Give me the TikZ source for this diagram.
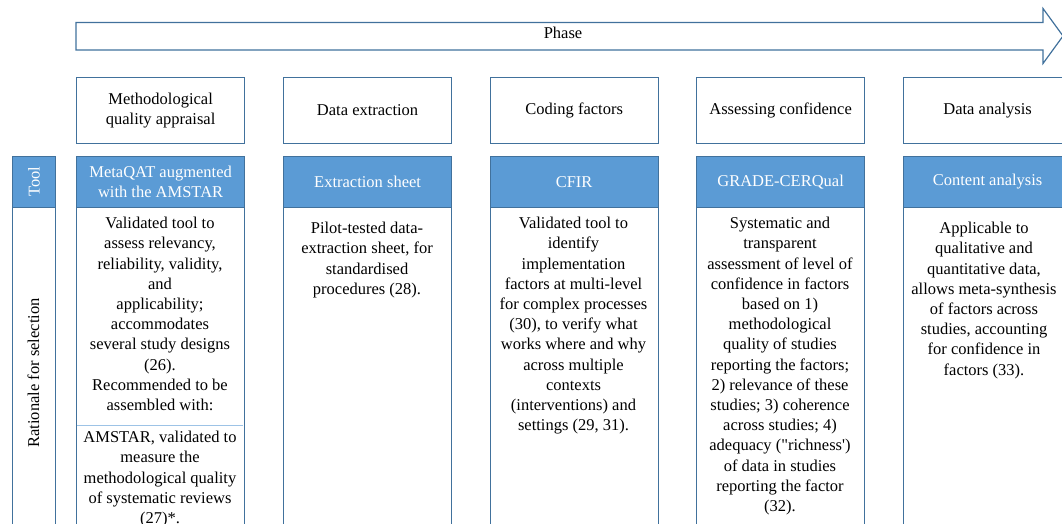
\documentclass[tikz,border=0pt]{standalone}
\usepackage{fontspec}
\setmainfont{Liberation Serif}[Ligatures=TeXOff]
\definecolor{bord}{HTML}{41719C}
\definecolor{toolfill}{HTML}{5B9BD5}
\definecolor{sepline}{HTML}{9DC3E6}
\newcommand{\mytxt}{\fontsize{16.5}{20.2}\selectfont}
\tikzset{
  hdrbox/.style={draw=bord, line width=1.2pt, minimum width=168pt, minimum height=65.5pt, inner sep=0pt, align=center, font=\mytxt, anchor=north west},
  toolbox/.style={draw=bord, fill=toolfill, line width=1.2pt, minimum width=168pt, minimum height=51.5pt, inner sep=0pt, align=center, font=\mytxt, text=white, anchor=north west},
  bodybox/.style={draw=bord, line width=1.2pt, minimum width=168pt, minimum height=340pt, inner sep=0pt, anchor=north west},
  bodytext/.style={anchor=north, align=center, inner sep=0pt, font=\mytxt},
  sidetool/.style={draw=bord, fill=toolfill, line width=1.2pt, minimum width=43pt, minimum height=51.5pt, inner sep=0pt, anchor=north west},
  sidebody/.style={draw=bord, line width=1.2pt, minimum width=43pt, minimum height=340pt, inner sep=0pt, anchor=north west},
  sidetext/.style={rotate=90, inner sep=0pt, font=\mytxt}
}
\begin{document}
\begin{tikzpicture}[x=1pt,y=-1pt]
\useasboundingbox (0,0) rectangle (1062,524);
\clip (0,0) rectangle (1062,524);
% phase arrow
\draw[bord, line width=1.2pt, line join=miter] (76,22.5) -- (1043,22.5) -- (1043,8.5) -- (1063,36) -- (1043,63.5) -- (1043,50) -- (76,50) -- cycle;
\node[font=\mytxt, inner sep=0pt] (phase) at (563,33) {Phase};
% left column
\node[sidetool] (ltool) at (12,155.5) {};
\node[sidetext, text=white] (ltooltxt) at (ltool.center) {Tool};
\node[sidebody] (lbody) at (12,207) {};
\node[sidetext] (lbodytxt) at (33.5,373) {Rationale for selection};
% headers
\node[hdrbox] (h1) at (76,77) {Methodological\\quality appraisal};
\node[hdrbox] (h2) at (283,77) {Data extraction};
\node[hdrbox] (h3) at (489.5,77) {Coding factors};
\node[hdrbox] (h4) at (696,77) {Assessing confidence};
\node[hdrbox] (h5) at (903,77) {Data analysis};
% tools
\node[toolbox] (t1) at (76,155.5) {MetaQAT augmented\\with the AMSTAR};
\node[toolbox] (t2) at (283,155.5) {Extraction sheet};
\node[toolbox] (t3) at (489.5,155.5) {CFIR};
\node[toolbox] (t4) at (696,155.5) {GRADE-CERQual};
\node[toolbox] (t5) at (903,155.5) {Content analysis};
% bodies
\node[bodybox] (b1) at (76,207) {};
\node[bodybox] (b2) at (283,207) {};
\node[bodybox] (b3) at (489.5,207) {};
\node[bodybox] (b4) at (696,207) {};
\node[bodybox] (b5) at (903,207) {};
\coordinate (s1) at (76.6,425);
\coordinate (s2) at (243.4,425);
\draw[sepline, line width=0.9pt] (s1) -- (s2);
% body texts
\node[bodytext] (x1a) at (160,217) {Validated tool to\\assess relevancy,\\reliability, validity,\\and\\applicability;\\accommodates\\several study designs\\(26).\\Recommended to be\\assembled with:};
\node[bodytext] (x1b) at (160,431) {AMSTAR, validated to\\measure the\\methodological quality\\of systematic reviews\\(27)*.};
\node[bodytext] (x2) at (367,222) {Pilot-tested data-\\extraction sheet, for\\standardised\\procedures (28).};
\node[bodytext] (x3) at (573.5,217) {Validated tool to\\identify\\implementation\\factors at multi-level\\for complex processes\\(30), to verify what\\works where and why\\across multiple\\contexts\\(interventions) and\\settings (29, 31).};
\node[bodytext] (x4) at (780,217) {Systematic and\\transparent\\assessment of level of\\confidence in factors\\based on 1)\\methodological\\quality of studies\\reporting the factors;\\2) relevance of these\\studies; 3) coherence\\across studies; 4)\\adequacy ("richness')\\of data in studies\\reporting the factor\\(32).};
\node[bodytext] (x5) at (984,222) {Applicable to\\qualitative and\\quantitative data,\\allows meta-synthesis\\of factors across\\studies, accounting\\for confidence in\\factors (33).};
\end{tikzpicture}
\end{document}
